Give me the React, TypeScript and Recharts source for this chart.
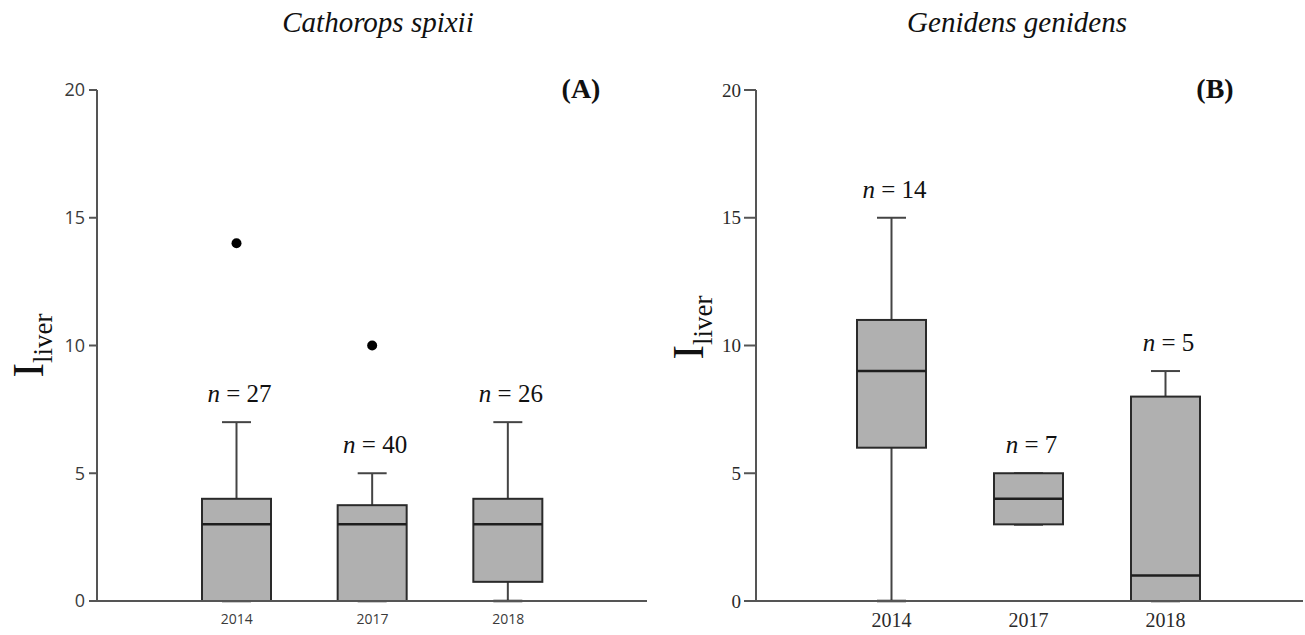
import { ComposedChart, Bar, XAxis, YAxis } from 'recharts';

const years = ['2014', '2017', '2018'];
const yTicks = [0, 5, 10, 15, 20];

// Cathorops spixii (A)
const lowA = [0, 0, 0];
const q1A = [0, 0, 0.75];
const medA = [3, 3, 3];
const q3A = [4, 3.75, 4];
const highA = [7, 5, 7];
const outA = [14, 10, null];
const nA = [27, 40, 26];

// Genidens genidens (B)
const lowB = [0, 3, 0];
const q1B = [6, 3, 0];
const medB = [9, 4, 1];
const q3B = [11, 5, 8];
const highB = [15, 5, 9];
const outB = [null, null, null];
const nB = [14, 7, 5];

const serif = '"Liberation Serif", "Times New Roman", serif';
const sans = '"Open Sans", "DejaVu Sans", sans-serif';

const buildRows = (low: number[], q1: number[], med: number[], q3: number[], high: number[], out: (number | null)[], n: number[]) =>
  years.map((year, i) => ({
    year,
    range: [low[i], high[i]],
    q1: q1[i],
    med: med[i],
    q3: q3[i],
    out: out[i],
    n: n[i],
  }));

const dataA = buildRows(lowA, q1A, medA, q3A, highA, outA, nA);
const dataB = buildRows(lowB, q1B, medB, q3B, highB, outB, nB);

const BoxShape = (props: any) => {
  const { x, y, width, height, payload } = props;
  const [lo, hi] = payload.range;
  const k = height / (hi - lo);
  const py = (v: number) => y + height - (v - lo) * k;
  const cx = x + width / 2;
  const cap = width * 0.21;
  return (
    <g>
      <line x1={cx} x2={cx} y1={py(hi)} y2={py(payload.q3)} stroke="#444" strokeWidth={2} />
      <line x1={cx} x2={cx} y1={py(payload.q1)} y2={py(lo)} stroke="#444" strokeWidth={2} />
      <line x1={cx - cap} x2={cx + cap} y1={py(hi)} y2={py(hi)} stroke="#444" strokeWidth={2} />
      <line x1={cx - cap} x2={cx + cap} y1={py(lo)} y2={py(lo)} stroke="#222" strokeWidth={2.5} />
      <rect
        x={x}
        y={py(payload.q3)}
        width={width}
        height={py(payload.q1) - py(payload.q3)}
        fill="#b0b0b0"
        stroke="#2a2a2a"
        strokeWidth={2}
      />
      <line x1={x} x2={x + width} y1={py(payload.med)} y2={py(payload.med)} stroke="#1e1e1e" strokeWidth={2.5} />
      {payload.out != null && <circle cx={cx} cy={py(payload.out)} r={5} fill="#000" />}
      <text x={cx + 3} y={py(hi) - 20} textAnchor="middle" fontFamily={serif} fontSize={25} fill="#111">
        <tspan fontStyle="italic">n</tspan> = {payload.n}
      </text>
    </g>
  );
};

const YLabel = ({ viewBox, shift }: any) => {
  const cy = viewBox.y + viewBox.height / 2 + shift;
  const lx = viewBox.x + 43;
  return (
    <text transform={`translate(${lx},${cy}) rotate(-90)`} textAnchor="middle" fontFamily={serif} fill="#111">
      <tspan fontSize={44}>I</tspan>
      <tspan fontSize={27} dy={9}>liver</tspan>
    </text>
  );
};

const Panel = ({ data, left, width, yWidth, right, tickFont, xFont, yFont, xMargin, ySize, yMargin, padL, padR, shift, tickFill }: any) => (
  <div style={{ position: 'absolute', left, top: 0 }}>
    <ComposedChart width={width} height={635} data={data} margin={{ top: 90, right, bottom: 0, left: 0 }}>
      <XAxis
        dataKey="year"
        height={34}
        padding={{ left: padL, right: padR }}
        axisLine={{ stroke: '#555', strokeWidth: 2 }}
        tickLine={false}
        tickSize={0}
        tickMargin={xMargin}
        tick={{ fontFamily: tickFont, fontSize: xFont, fill: tickFill }}
      />
      <YAxis
        type="number"
        domain={[0, 20]}
        ticks={yTicks}
        width={yWidth}
        axisLine={{ stroke: '#555', strokeWidth: 2 }}
        tickLine={{ stroke: '#555', strokeWidth: 2 }}
        tickSize={ySize}
        tickMargin={yMargin}
        tick={{ fontFamily: tickFont, fontSize: yFont, fill: tickFill }}
        label={{ content: (p: any) => <YLabel viewBox={p.viewBox} shift={shift} /> }}
      />
      <Bar dataKey="range" barSize={69} isAnimationActive={false} shape={(p: any) => <BoxShape {...p} />} />
    </ComposedChart>
  </div>
);

const Title = ({ x, y, text, bold, italic, size }: any) => (
  <div
    style={{
      position: 'absolute',
      left: x - 200,
      width: 400,
      top: y,
      textAlign: 'center',
      fontFamily: serif,
      fontSize: size,
      fontStyle: italic ? 'italic' : 'normal',
      fontWeight: bold ? 'bold' : 'normal',
      color: '#111',
      lineHeight: 1,
    }}
  >
    {text}
  </div>
);

export default function App() {
  return (
    <div style={{ position: 'absolute', left: 0, top: 0, width: 1305, height: 635, background: '#fff', overflow: 'hidden' }}>
      <Panel
        data={dataA}
        left={0}
        width={660}
        yWidth={97}
        right={13}
        tickFont={sans}
        xFont={14}
        yFont={18}
        xMargin={13}
        ySize={8}
        yMargin={4}
        padL={72}
        padR={71}
        shift={0}
        tickFill="#3a3a3a"
      />
      <Panel
        data={dataB}
        left={660}
        width={645}
        yWidth={96}
        right={2}
        tickFont={serif}
        xFont={20}
        yFont={19}
        xMargin={12}
        ySize={12}
        yMargin={3}
        padL={67}
        padR={69}
        shift={-18}
        tickFill="#2a2a2a"
      />
      <Title x={378} y={8} text="Cathorops spixii" italic size={29} />
      <Title x={1017} y={8} text="Genidens genidens" italic size={29} />
      <Title x={581} y={75} text="(A)" bold size={28} />
      <Title x={1215} y={75} text="(B)" bold size={28} />
    </div>
  );
}
